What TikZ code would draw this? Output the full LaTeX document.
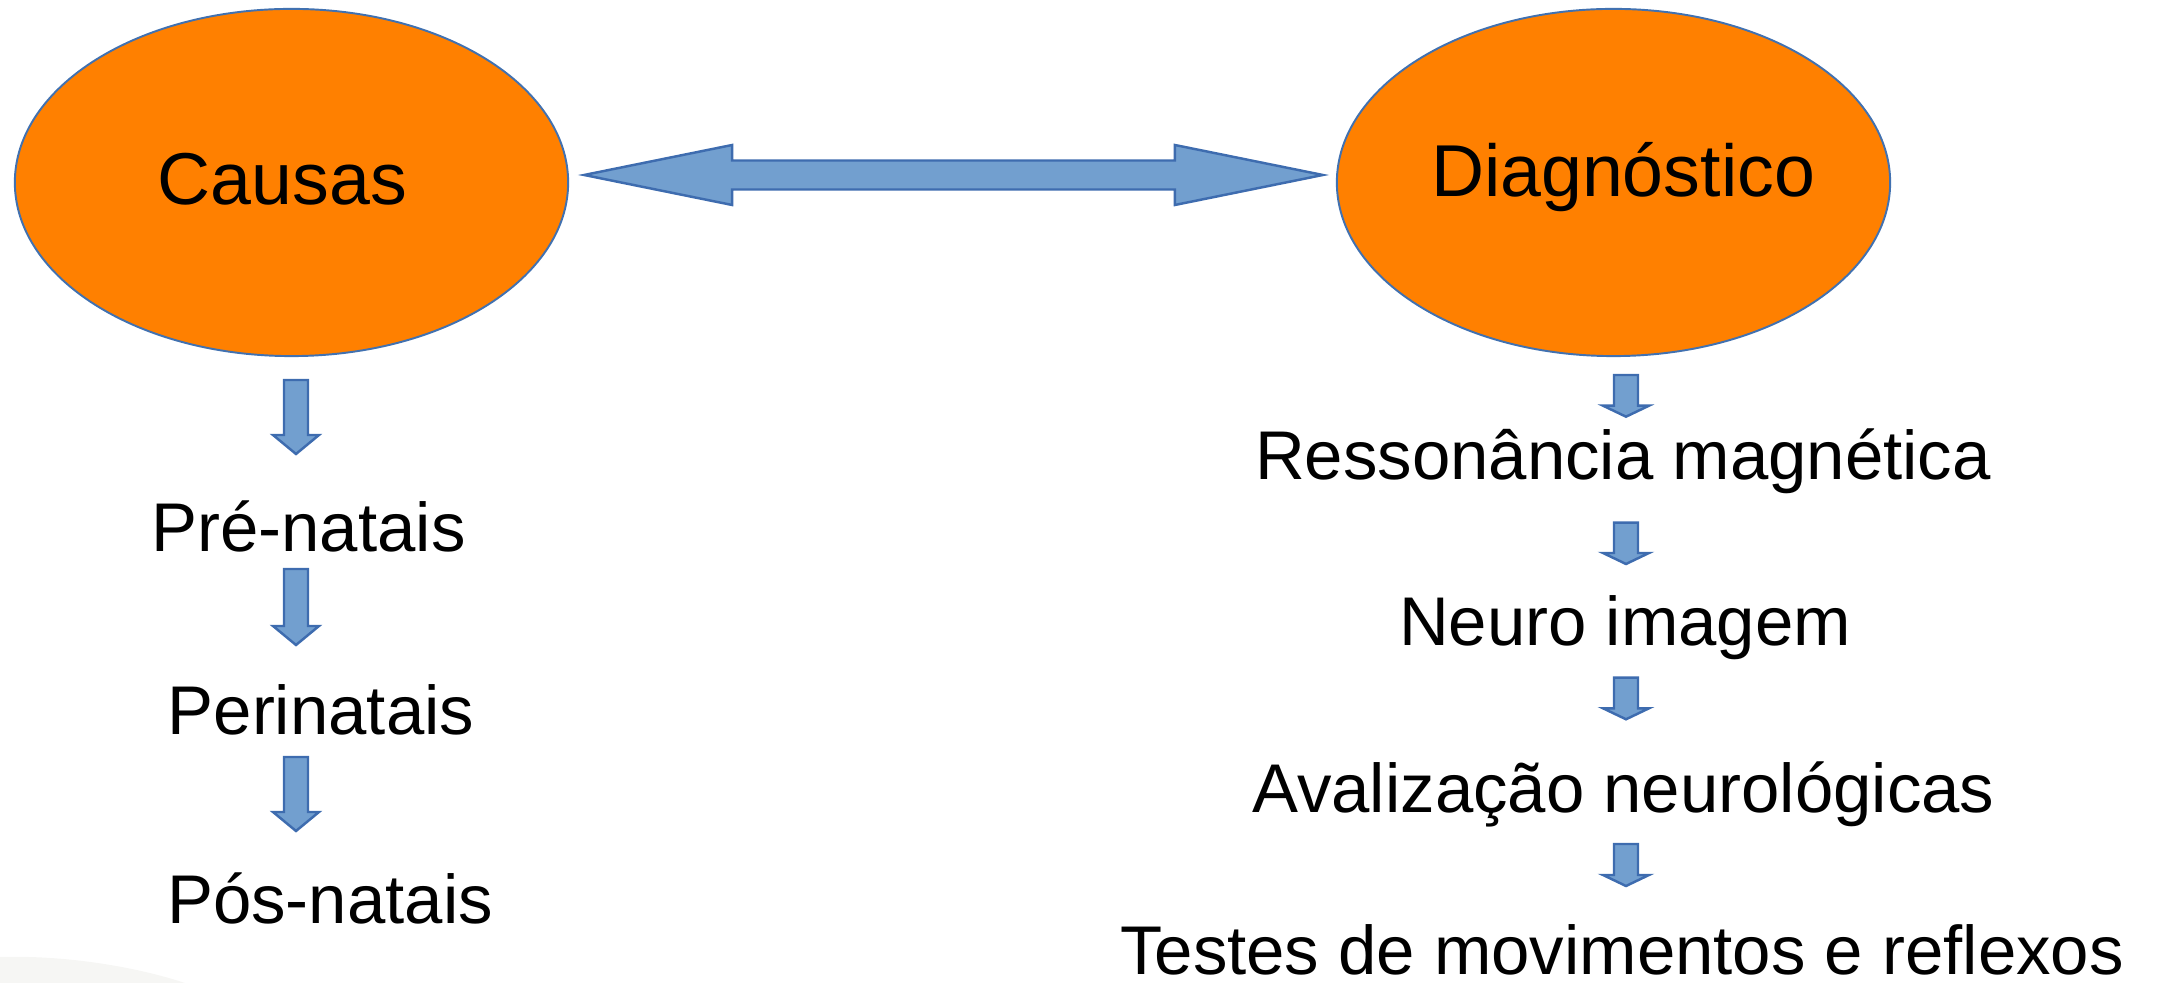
\documentclass[tikz,border=0pt]{standalone}
\usepackage{fontspec}
\setmainfont{Liberation Sans}
\usetikzlibrary{calc,shapes.geometric}
\definecolor{causeorange}{RGB}{255,128,0}
\definecolor{rimblue}{RGB}{65,113,176}
\definecolor{arrowfill}{RGB}{114,159,207}
\definecolor{arrowrim}{RGB}{62,108,175}
\definecolor{faintgray}{RGB}{246,246,244}
\def\orangenode{\node[ellipse,draw=rimblue,fill=causeorange,line width=0.55pt,minimum width=5.53cm,minimum height=3.47cm,inner sep=0pt]}
\def\bluearrow{\draw[fill=arrowfill,draw=arrowrim,line width=0.7pt,line join=miter]}
\tikzset{big/.style={font=\fontsize{20.9}{25}\selectfont,inner sep=0pt,anchor=base},
  item/.style={font=\fontsize{19.6}{23}\selectfont,inner sep=0pt,anchor=base}}
% block arrow pointing down from #1 to tip #2, head length #3
\newcommand\downblock[3]{\bluearrow ($(#1)+(-12,0)$) -- ($(#2)+(-12,-#3)$) -- ($(#2)+(-23,-#3)$) -- (#2) -- ($(#2)+(23,-#3)$) -- ($(#2)+(12,-#3)$) -- ($(#1)+(12,0)$) -- cycle;}

\begin{document}
\begin{tikzpicture}[x=0.01cm,y=-0.01cm]
\useasboundingbox (0,0) rectangle (2157,983);
\fill[faintgray] (0,983) -- (0,957) .. controls (70,955) and (140,968) .. (185,983) -- cycle;
\orangenode (causas) at (291.5,182.5) {};
\orangenode (diag) at (1613.5,182.5) {};
\node[big] (causastxt) at (282.5,205) {Causas};
\node[big] (diagtxt) at (1623,197) {Diagnóstico};
% double arrow between the two ellipses
\coordinate (dl) at ($(causas.east)+(15,-7.5)$);
\coordinate (dr) at ($(diag.west)+(-13,-7.5)$);
\bluearrow (dl) -- ($(dl)+(148,-30)$) -- ($(dl)+(148,-14.5)$) -- ($(dr)+(-148,-14.5)$) -- ($(dr)+(-148,-30)$) -- (dr) -- ($(dr)+(-148,30)$) -- ($(dr)+(-148,14.5)$) -- ($(dl)+(148,14.5)$) -- ($(dl)+(148,30)$) -- cycle;
% left column
\node[item] (pre) at (308.5,551.7) {Pré-natais};
\node[item] (peri) at (321,735) {Perinatais};
\node[item] (pos) at (330,924) {Pós-natais};
\coordinate (l1) at (296,380);
\coordinate (l1t) at (296,454);
\coordinate (l2) at (296,569);
\coordinate (l2t) at (296,645);
\coordinate (l3) at (296,757);
\coordinate (l3t) at (296,831);
\downblock{l1}{l1t}{19}
\downblock{l2}{l2t}{19}
\downblock{l3}{l3t}{19}
% right column
\node[item] (resso) at (1623,480) {Ressonância magnética};
\node[item] (neuro) at (1625,646) {Neuro imagem};
\node[item] (aval) at (1623.5,813) {Avalização neurológicas};
\node[item] (testes) at (1622,975) {Testes de movimentos e reflexos};
\coordinate (r1) at (1626,375);
\coordinate (r1t) at (1626,416.7);
\coordinate (r2) at (1626,522.7);
\coordinate (r2t) at (1626,564);
\coordinate (r3) at (1626,677.7);
\coordinate (r3t) at (1626,719.3);
\coordinate (r4) at (1626,844);
\coordinate (r4t) at (1626,886);
\downblock{r1}{r1t}{11}
\downblock{r2}{r2t}{11}
\downblock{r3}{r3t}{11}
\downblock{r4}{r4t}{11}
\end{tikzpicture}
\end{document}
